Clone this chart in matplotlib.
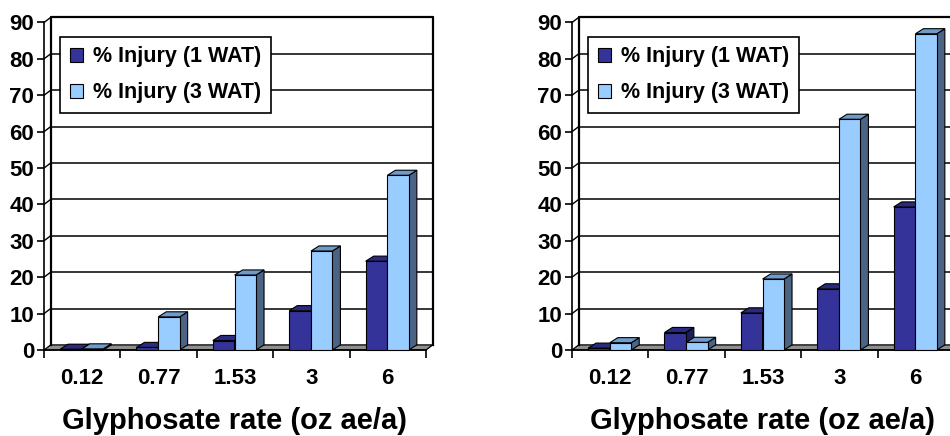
import matplotlib.pyplot as plt
from matplotlib.patches import Polygon, Patch

plt.rcParams['font.family'] = ['Liberation Sans', 'DejaVu Sans']
plt.rcParams['font.weight'] = 'bold'

# injury ratings per glyphosate rate, two trials
rates = ["0.12", "0.77", "1.53", "3", "6"]
left_1wat = [0.2, 0.7, 2.6, 10.8, 24.4]
left_3wat = [0.3, 9.1, 20.6, 27.2, 48.0]
right_1wat = [0.5, 4.8, 10.2, 16.8, 39.3]
right_3wat = [2.0, 2.1, 19.5, 63.4, 86.9]

series_names = ["% Injury (1 WAT)", "% Injury (3 WAT)"]
front_cols = ["#333399", "#99ccff"]
top_cols = ["#2a2a7e", "#6f9bcb"]
side_cols = ["#1e1e58", "#4b6384"]

DX, DY = 0.088, 1.4      # depth of walls / floor (data units)
BDX, BDY = 0.105, 1.4    # depth of each bar
BW = 0.28                # bar width inside a category
YMAX = 90


def draw_panel(ax, v1, v2):
    n = len(rates)
    ax.set_xlim(0, n)
    ax.set_ylim(0, YMAX)
    for s in ['top', 'right']:
        ax.spines[s].set_visible(False)
    ax.spines['left'].set_linewidth(1.2)
    ax.spines['bottom'].set_linewidth(1.2)

    # floor
    floor = Polygon([(0, 0), (n, 0), (n + DX, DY), (DX, DY)], closed=True,
                    facecolor="#8f8f8f", edgecolor="black", lw=0.9,
                    clip_on=False, zorder=1)
    ax.add_patch(floor)

    # gridlines on back wall plus side-wall diagonals
    for v in range(10, YMAX + 1, 10):
        ax.plot([DX, n + DX], [v + DY, v + DY], color="black", lw=1.1,
                clip_on=False, zorder=1)
        ax.plot([0, DX], [v, v + DY], color="black", lw=1.0,
                clip_on=False, zorder=1)
    # back wall frame
    ax.plot([DX, DX, n + DX, n + DX], [DY, YMAX + DY, YMAX + DY, DY],
            color="black", lw=1.6, clip_on=False, zorder=1)

    z = 3
    for i in range(n):
        for k, vals in enumerate([v1, v2]):
            h = vals[i]
            x0 = i + 0.21 + k * 0.285
            side = Polygon([(x0 + BW, 0), (x0 + BW + BDX, BDY),
                            (x0 + BW + BDX, h + BDY), (x0 + BW, h)],
                           closed=True, facecolor=side_cols[k],
                           edgecolor="black", lw=0.8, clip_on=False, zorder=z)
            top = Polygon([(x0, h), (x0 + BW, h), (x0 + BW + BDX, h + BDY),
                           (x0 + BDX, h + BDY)], closed=True,
                          facecolor=top_cols[k], edgecolor="black", lw=0.8,
                          clip_on=False, zorder=z)
            ax.add_patch(side)
            ax.add_patch(top)
            ax.bar(x0, h, width=BW, align='edge', color=front_cols[k],
                   edgecolor="black", lw=0.8, zorder=z + 0.5, clip_on=False)
            z += 1

    ax.set_yticks(range(0, YMAX + 1, 10))
    ax.tick_params(axis='y', direction='out', length=5, width=1.2, pad=2,
                   labelsize=16)
    ax.set_xticks(range(0, n + 1))
    ax.set_xticklabels([])
    ax.tick_params(axis='x', which='major', direction='out', length=6,
                   width=1.2)
    ax.set_xticks([i + 0.5 for i in range(n)], minor=True)
    ax.set_xticklabels(rates, minor=True)
    ax.tick_params(axis='x', which='minor', length=0, pad=13, labelsize=16)
    ax.set_xlabel("Glyphosate rate (oz ae/a)", fontsize=21,
                  fontweight='bold', labelpad=13)

    handles = [Patch(facecolor=front_cols[0], edgecolor="black", lw=0.8),
               Patch(facecolor=front_cols[1], edgecolor="black", lw=0.8)]
    leg = ax.legend(handles, series_names, loc='upper left',
                    bbox_to_anchor=(0.042, 0.957), fancybox=False,
                    framealpha=1, edgecolor="black", handlelength=0.62,
                    handleheight=0.62, handletextpad=0.45, labelspacing=0.7,
                    borderpad=0.45, borderaxespad=0,
                    prop={'size': 15.5, 'weight': 'bold'})
    leg.get_frame().set_linewidth(1.2)
    leg.set_zorder(50)


fig = plt.figure(figsize=(9.5, 4.36), dpi=100)
ax1 = fig.add_axes([44 / 950, 86 / 436, 382 / 950, 327.5 / 436])
ax2 = fig.add_axes([572 / 950, 86 / 436, 382 / 950, 327.5 / 436])
for a in (ax1, ax2):
    a.patch.set_visible(False)
draw_panel(ax1, left_1wat, left_3wat)
draw_panel(ax2, right_1wat, right_3wat)

fig.savefig("out.png", dpi=100)
